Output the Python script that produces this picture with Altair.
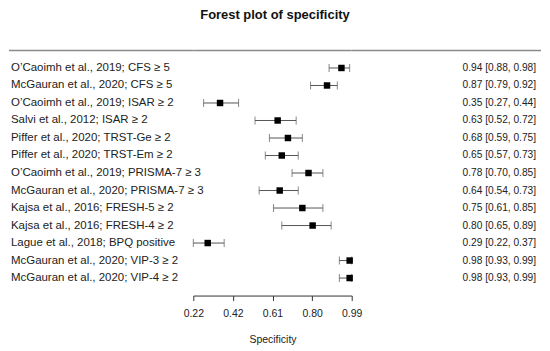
import altair as alt
import pandas as pd

labels = [
    "O\u2019Caoimh et al., 2019; CFS \u2265 5",
    "McGauran et al., 2020; CFS \u2265 5",
    "O\u2019Caoimh et al., 2019; ISAR \u2265 2",
    "Salvi et al., 2012; ISAR \u2265 2",
    "Piffer et al., 2020; TRST-Ge \u2265 2",
    "Piffer et al., 2020; TRST-Em \u2265 2",
    "O\u2019Caoimh et al., 2019; PRISMA-7 \u2265 3",
    "McGauran et al., 2020; PRISMA-7 \u2265 3",
    "Kajsa et al., 2016; FRESH-5 \u2265 2",
    "Kajsa et al., 2016; FRESH-4 \u2265 2",
    "Lague et al., 2018; BPQ positive",
    "McGauran et al., 2020; VIP-3 \u2265 2",
    "McGauran et al., 2020; VIP-4 \u2265 2",
]
est = [0.94, 0.87, 0.35, 0.63, 0.68, 0.65, 0.78, 0.64, 0.75, 0.80, 0.29, 0.98, 0.98]
lo = [0.88, 0.79, 0.27, 0.52, 0.59, 0.57, 0.70, 0.54, 0.61, 0.65, 0.22, 0.93, 0.93]
hi = [0.98, 0.92, 0.44, 0.72, 0.75, 0.73, 0.85, 0.73, 0.85, 0.89, 0.37, 0.99, 0.99]
tick_values = [0.22, 0.4125, 0.605, 0.7975, 0.99]
tick_labels = ["0.22", "0.42", "0.61", "0.80", "0.99"]

df = pd.DataFrame({
    "label": labels,
    "est": est,
    "lo": lo,
    "hi": hi,
    "row": list(range(1, len(labels) + 1)),
})
df["ci"] = [f"{e:.2f} [{l:.2f}, {h:.2f}]" for e, l, h in zip(est, lo, hi)]

FONT = "Liberation Sans"
H = 246
yscale = alt.Scale(domain=[0, 14], reverse=True, nice=False, zero=False)
Y = alt.Y("row:Q", scale=yscale, axis=None)

top_line = alt.Chart(pd.DataFrame({"r": [0]})).mark_rule(color="#8a8a8a", strokeWidth=1.5).encode(
    y=alt.Y("r:Q", scale=yscale, axis=None)
)

base = alt.Chart(df)

left = alt.layer(
    top_line,
    base.mark_text(align="left", baseline="middle", font=FONT, fontSize=11.5, color="#222").encode(
        x=alt.value(2), y=Y, text="label:N"
    ),
).properties(width=185, height=H)

xscale = alt.Scale(domain=[0.22, 0.99], nice=False, zero=False)
label_expr = " : ".join(
    f"abs(datum.value - {v}) < 0.01 ? '{t}'" for v, t in zip(tick_values, tick_labels)
) + " : ''"

xaxis = alt.Axis(values=tick_values, labelExpr=label_expr, grid=False,
                 tickSize=5, labelPadding=8, labelFontSize=10.5, labelFont=FONT,
                 titleFont=FONT, titleFontSize=10.5, titleFontWeight="normal",
                 titlePadding=16, domainColor="#333", tickColor="#333",
                 labelColor="#222", titleColor="#222", labelFlush=False,
                 labelOverlap=False, labelBound=False)


def X(field):
    return alt.X(field, scale=xscale, axis=xaxis, title="Specificity")


whisk = base.mark_rule(color="#555", strokeWidth=1).encode(x=X("lo:Q"), x2="hi:Q", y=Y)
cap_lo = base.mark_tick(orient="vertical", color="#555", size=8, thickness=1).encode(x=X("lo:Q"), y=Y)
cap_hi = base.mark_tick(orient="vertical", color="#555", size=8, thickness=1).encode(x=X("hi:Q"), y=Y)
pts = base.mark_square(color="black", size=42, opacity=1).encode(x=X("est:Q"), y=Y)

mid = alt.layer(top_line, whisk, cap_lo, cap_hi, pts).properties(width=159, height=H)

right = alt.layer(
    top_line,
    base.mark_text(align="right", baseline="middle", font=FONT, fontSize=10.2, color="#222").encode(
        x=alt.value(185), y=Y, text="ci:N"
    ),
).properties(width=190, height=H)

chart = alt.hconcat(left, mid, right, spacing=0).properties(
    title=alt.TitleParams("Forest plot of specificity", font=FONT, fontSize=13, fontWeight="bold",
                          anchor="middle", offset=28, color="#111"),
    padding=0,
    bounds="flush",
).configure_view(stroke=None).configure_concat(spacing=0)

chart.save("out.html", embed_options={"renderer": "svg", "actions": False})
